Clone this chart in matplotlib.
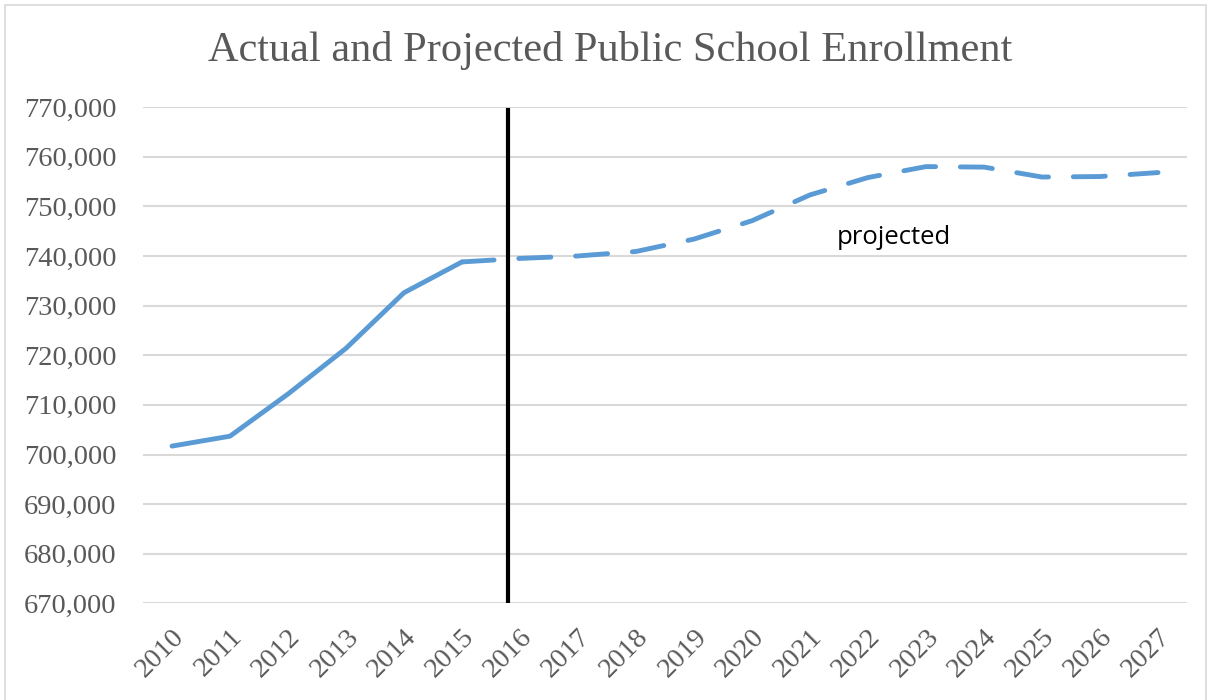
import matplotlib.pyplot as plt
from matplotlib.patches import Rectangle
from matplotlib.ticker import FuncFormatter

# Enrollment data
years = ['2010', '2011', '2012', '2013', '2014', '2015', '2016', '2017', '2018',
         '2019', '2020', '2021', '2022', '2023', '2024', '2025', '2026', '2027']
actual = [701700, 703700, 712200, 721400, 732600, 738800]
projected = [738800, 739500, 740000, 740900, 743400, 747100, 752300, 755800,
             758000, 757900, 755900, 756000, 756800]
divider_pos = 5.8
note_text = 'projected'

gray = '#595959'
blue = '#5b9bd5'

fig = plt.figure(figsize=(12.13, 7), dpi=100)
ax = fig.add_axes([0.1179, 0.1379, 0.8607, 0.7092])

x_actual = list(range(len(actual)))
x_proj = list(range(len(actual) - 1, len(years)))

ax.plot(x_actual, actual, color=blue, lw=3.5, solid_capstyle='round',
        solid_joinstyle='round', zorder=3)
ax.plot(x_proj, projected, color=blue, lw=3.5, dashes=(6.6, 5.1),
        dash_capstyle='round', dash_joinstyle='round', zorder=3)

ax.plot([divider_pos, divider_pos], [670400, 769400], color='black', lw=3, zorder=4)

ax.text(12.45, 743800, note_text, fontsize=18.5, family='Open Sans', color='black',
        ha='center', va='center')

ax.set_xlim(-0.5, len(years) - 0.5)
ax.set_ylim(670000, 770000)
ax.set_yticks(range(670000, 770001, 10000))
ax.yaxis.set_major_formatter(FuncFormatter(lambda v, p: f'{int(v):,}'))
ax.set_xticks(range(len(years)))
ax.set_xticklabels(years, rotation=45, ha='right', rotation_mode='anchor')

for lab in ax.get_xticklabels() + ax.get_yticklabels():
    lab.set_family('Liberation Serif')
    lab.set_fontsize(20.5)
    lab.set_color(gray)

ax.grid(axis='y', color='#d9d9d9', lw=1.5)
ax.set_axisbelow(True)
ax.tick_params(axis='y', length=0, pad=19)
ax.tick_params(axis='x', length=0, pad=15)
for s in ax.spines.values():
    s.set_visible(False)

fig.text(0.503, 0.928, 'Actual and Projected Public School Enrollment',
         family='Liberation Serif', fontsize=30.5, color=gray, ha='center', va='center')

fig.patches.append(Rectangle((0.004, -0.01), 0.99, 1.003, transform=fig.transFigure,
                             fill=False, edgecolor='#d9d9d9', lw=1.2))

fig.savefig('out.png', dpi=100)
